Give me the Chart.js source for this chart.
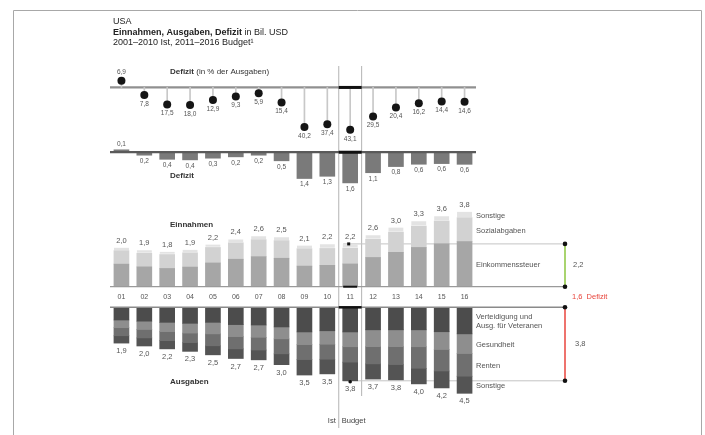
<!DOCTYPE html>
<html>
<head>
<meta charset="utf-8">
<style>
html,body{margin:0;padding:0;background:#fff;}
#wrap{position:relative;width:705px;height:435px;}
</style>
<script src="https://cdn.jsdelivr.net/npm/chart.js@4.4.1/dist/chart.umd.min.js"></script>
</head>
<body>
<div id="wrap"><canvas id="c" width="705" height="435"></canvas></div>
<script>
// ---------------- DATA ----------------
const years = ['01','02','03','04','05','06','07','08','09','10','11','12','13','14','15','16'];
// Defizit in % der Ausgaben (positive = Überschuss)
const deficitPct = [6.9,-7.8,-17.5,-18.0,-12.9,-9.3,-5.9,-15.4,-40.2,-37.4,-43.1,-29.5,-20.4,-16.2,-14.4,-14.6];
// Saldo in Bio. USD
const balance = [0.13,-0.16,-0.38,-0.41,-0.32,-0.248,-0.16,-0.46,-1.41,-1.29,-1.645,-1.10,-0.77,-0.645,-0.61,-0.649];
// Einnahmen
const revIncomeTax = [1.15,1.01,0.93,1.00,1.21,1.40,1.53,1.45,1.05,1.09,1.16,1.49,1.75,2.00,2.19,2.30];
const revSocial    = [0.69,0.70,0.71,0.73,0.79,0.84,0.87,0.90,0.89,0.86,0.81,0.93,1.03,1.09,1.16,1.22];
const revOther     = [0.15,0.15,0.14,0.15,0.15,0.17,0.17,0.17,0.16,0.21,0.21,0.20,0.23,0.24,0.24,0.30];
const revTotal     = [2.0,1.9,1.8,1.9,2.2,2.4,2.6,2.5,2.1,2.2,2.2,2.6,3.0,3.3,3.6,3.8];
// Ausgaben
const outDefense = [0.66,0.72,0.78,0.83,0.78,0.90,0.92,1.02,1.28,1.22,1.28,1.17,1.17,1.17,1.27,1.38];
const outHealth  = [0.40,0.43,0.48,0.51,0.60,0.62,0.64,0.62,0.66,0.70,0.77,0.87,0.87,0.88,0.92,1.02];
const outPension = [0.42,0.44,0.47,0.49,0.62,0.64,0.66,0.78,0.77,0.78,0.80,0.90,0.93,1.12,1.12,1.18];
const outOther   = [0.38,0.42,0.43,0.46,0.47,0.50,0.51,0.56,0.81,0.76,0.97,0.79,0.80,0.81,0.88,0.89];
const outTotal   = [1.9,2.0,2.2,2.3,2.5,2.7,2.7,3.0,3.5,3.5,3.8,3.7,3.8,4.0,4.2,4.5];
const revLegend = ['Einkommenssteuer','Sozialabgaben','Sonstige'];
const outLegend = [['Verteidigung und','Ausg. für Veteranen'],['Gesundheit'],['Renten'],['Sonstige']];
const budgetIndex = 10; // 2011

// ---------------- HELPERS ----------------
const H = 435;
function axis(zeroPx, pxPerUnit, stacked){
  return {type:'linear', display:false, stacked:stacked, min: -(H - zeroPx)/pxPerUnit, max: zeroPx/pxPerUnit};
}
const neg = a => a.map(v => -v);
const fmt = v => Math.abs(v).toFixed(1).replace('.', ',');
const FONT = '"Liberation Sans", Arial, sans-serif';

const deco = {
  id: 'deco',
  beforeDatasetsDraw(chart){
    const {ctx, chartArea:ca, scales} = chart;
    const x = scales.x, yP = scales.yPct, yR = scales.yRev, yO = scales.yOut;
    const bx = ca.right + 89;
    const xa = (x.getPixelForValue(9) + x.getPixelForValue(10))/2;
    const xb = (x.getPixelForValue(10) + x.getPixelForValue(11))/2;
    ctx.save();
    // frame
    ctx.strokeStyle = '#a8a8a8'; ctx.lineWidth = 1;
    ctx.beginPath(); ctx.moveTo(13.5, H); ctx.lineTo(13.5, 10.5); ctx.lineTo(701.5, 10.5); ctx.lineTo(701.5, H); ctx.stroke();
    // separators
    ctx.strokeStyle = '#a0a0a0'; ctx.lineWidth = 0.8;
    ctx.beginPath(); ctx.moveTo(xa, 66); ctx.lineTo(xa, 428); ctx.stroke();
    ctx.beginPath(); ctx.moveTo(xb, 66); ctx.lineTo(xb, 396); ctx.stroke();
    const line = (x1, x2, y, w, c) => { ctx.strokeStyle = c; ctx.lineWidth = w; ctx.beginPath(); ctx.moveTo(x1, y); ctx.lineTo(x2, y); ctx.stroke(); };
    line(ca.left, ca.right, yP.getPixelForValue(0), 2.2, '#909090');
    const xi = x.getPixelForValue(budgetIndex);
    const yRT = yR.getPixelForValue(revIncomeTax[budgetIndex] + revSocial[budgetIndex] + revOther[budgetIndex]);
    const yOB = yO.getPixelForValue(-(outDefense[budgetIndex] + outHealth[budgetIndex] + outPension[budgetIndex] + outOther[budgetIndex]));
    line(xi - 7, bx, yRT, 1, '#c4c4c4');
    line(xi - 7, bx, yOB, 1, '#c4c4c4');
    ctx.restore();
  },
  afterDatasetsDraw(chart){
    const {ctx, chartArea:ca, scales} = chart;
    const x = scales.x, yP = scales.yDot, yD = scales.yDef, yR = scales.yRev, yO = scales.yOut;
    const bx = ca.right + 89;
    const xa = (x.getPixelForValue(9) + x.getPixelForValue(10))/2;
    const xb = (x.getPixelForValue(10) + x.getPixelForValue(11))/2;
    const xi = x.getPixelForValue(budgetIndex);
    const yP0 = yP.getPixelForValue(0), yD0 = yD.getPixelForValue(0), yR0 = yR.getPixelForValue(0), yO0 = yO.getPixelForValue(0);
    ctx.save();
    const line = (x1, x2, y, w, c) => { ctx.strokeStyle = c; ctx.lineWidth = w; ctx.beginPath(); ctx.moveTo(x1, y); ctx.lineTo(x2, y); ctx.stroke(); };
    line(ca.left, ca.right, yD0, 2.2, '#5a5a5a');
    line(ca.left, bx, yR0, 1.2, '#9a9a9a');
    line(ca.left, bx, yO0, 1.5, '#8a8a8a');
    // budget year highlights
    line(xa, xb, yP0, 3, '#111');
    line(xa, xb, yD0, 3, '#111');
    line(xi - 7, xi + 7, yR0, 2, '#111');
    line(xa, xb, yO0, 2.5, '#111');
    const yRT = yR.getPixelForValue(revIncomeTax[budgetIndex] + revSocial[budgetIndex] + revOther[budgetIndex]);
    const yOB = yO.getPixelForValue(-(outDefense[budgetIndex] + outHealth[budgetIndex] + outPension[budgetIndex] + outOther[budgetIndex]));
    ctx.fillStyle = '#111';
    ctx.fillRect(xi - 3, yRT - 1.5, 3, 3);
    ctx.beginPath(); ctx.arc(xi, yOB + 1, 1.8, 0, Math.PI*2); ctx.fill();

    // value labels
    ctx.textBaseline = 'middle';
    ctx.fillStyle = '#555';
    ctx.textAlign = 'center';
    years.forEach((yr, i) => {
      const px = x.getPixelForValue(i);
      ctx.font = '6.5px ' + FONT;
      const dy = yP.getPixelForValue(deficitPct[i]);
      ctx.fillText(fmt(deficitPct[i]), px, deficitPct[i] >= 0 ? dy - 8.5 : dy + 9);
      const by = yD.getPixelForValue(balance[i]);
      ctx.fillText(fmt(balance[i]), px, balance[i] >= 0 ? by - 6 : by + 6);
      ctx.font = '7.5px ' + FONT;
      const rt = yR.getPixelForValue(revIncomeTax[i] + revSocial[i] + revOther[i]);
      ctx.fillText(fmt(revTotal[i]), px, rt - 7);
      const ob = yO.getPixelForValue(-(outDefense[i] + outHealth[i] + outPension[i] + outOther[i]));
      ctx.fillText(fmt(outTotal[i]), px, ob + 8);
      ctx.font = '7px ' + FONT;
      ctx.fillText(yr, px, (yR0 + yO0)/2);
    });

    // panel titles
    ctx.textAlign = 'left'; ctx.fillStyle = '#333';
    const rich = (parts, px, py, size) => {
      let cx = px;
      parts.forEach(([t, b]) => { ctx.font = (b ? 'bold ' : '') + size + 'px ' + FONT; ctx.fillText(t, cx, py); cx += ctx.measureText(t).width; });
    };
    rich([['Defizit', true], [' (in % der Ausgaben)', false]], 170, 72, 8);
    rich([['Defizit', true]], 170, 176, 8);
    rich([['Einnahmen', true]], 170, 225, 8);
    rich([['Ausgaben', true]], 170, 382, 8);

    // main title
    ctx.fillStyle = '#222';
    rich([['USA', false]], 113, 22, 9);
    rich([['Einnahmen, Ausgaben, Defizit', true], [' in Bil. USD', false]], 113, 33, 9);
    rich([['2001–2010 Ist, 2011–2016 Budget¹', false]], 113, 43, 9);

    // Ist / Budget
    ctx.font = '7.5px ' + FONT; ctx.fillStyle = '#444';
    ctx.textAlign = 'right'; ctx.fillText('Ist', xa - 3, 421);
    ctx.textAlign = 'left'; ctx.fillText('Budget', xa + 3, 421);

    // legends from last bar's segments
    const L = years.length - 1;
    const lx = ca.right;
    ctx.fillStyle = '#555'; ctx.font = '7.5px ' + FONT;
    const revSegs = [revIncomeTax, revSocial, revOther];
    let acc = 0;
    revSegs.forEach((arr, k) => {
      const y1 = yR.getPixelForValue(acc), y2 = yR.getPixelForValue(acc + arr[L]);
      acc += arr[L];
      ctx.fillText(revLegend[k], lx, (y1 + y2)/2 + 1);
    });
    const outSegs = [outDefense, outHealth, outPension, outOther];
    acc = 0;
    outSegs.forEach((arr, k) => {
      const y1 = yO.getPixelForValue(-acc), y2 = yO.getPixelForValue(-(acc + arr[L]));
      acc += arr[L];
      const lines = outLegend[k];
      const mid = (y1 + y2)/2 + 1;
      lines.forEach((t, j) => ctx.fillText(t, lx, mid + (j - (lines.length - 1)/2) * 9));
    });

    // brackets
    ctx.lineWidth = 1.5;
    ctx.strokeStyle = '#8cc63f';
    ctx.beginPath(); ctx.moveTo(bx, yRT); ctx.lineTo(bx, yR0); ctx.stroke();
    ctx.strokeStyle = '#e8453c';
    ctx.beginPath(); ctx.moveTo(bx, yO0); ctx.lineTo(bx, yOB); ctx.stroke();
    ctx.fillStyle = '#111';
    [yRT, yR0, yO0, yOB].forEach(yy => { ctx.beginPath(); ctx.arc(bx, yy, 2.3, 0, Math.PI*2); ctx.fill(); });
    ctx.fillStyle = '#555'; ctx.font = '7.5px ' + FONT; ctx.textAlign = 'left';
    ctx.fillText(fmt(revTotal[budgetIndex]), bx + 8, (yRT + yR0)/2);
    ctx.fillText(fmt(outTotal[budgetIndex]), bx + 10, (yO0 + yOB)/2);
    ctx.fillStyle = '#e8453c';
    ctx.fillText(fmt(balance[budgetIndex]) + '  Defizit', bx + 7, (yR0 + yO0)/2);
    ctx.restore();
  }
};

const barCommon = {type:'bar', grouped:false, stack:'s', barThickness:15, borderWidth:0};

new Chart(document.getElementById('c'), {
  type: 'bar',
  data: {
    labels: years,
    datasets: [
      {type:'line', data: deficitPct, yAxisID:'yDot', showLine:false, pointRadius:4, pointHoverRadius:4,
       pointBackgroundColor:'#151515', pointBorderWidth:0},
      {...barCommon, data: deficitPct, yAxisID:'yPct', barThickness:1, backgroundColor:'#c8c8c8'},
      {...barCommon, data: balance, yAxisID:'yDef', backgroundColor:'#7a7a7a'},
      {...barCommon, data: revIncomeTax, yAxisID:'yRev', backgroundColor:'#a6a6a6'},
      {...barCommon, data: revSocial, yAxisID:'yRev', backgroundColor:'#d2d2d2'},
      {...barCommon, data: revOther, yAxisID:'yRev', backgroundColor:'#e3e3e3',
       borderColor:'#ffffff', borderWidth:{top:0,left:0,right:0,bottom:1}, borderSkipped:false},
      {...barCommon, data: neg(outDefense), yAxisID:'yOut', backgroundColor:'#4c4c4c'},
      {...barCommon, data: neg(outHealth), yAxisID:'yOut', backgroundColor:'#8e8e8e'},
      {...barCommon, data: neg(outPension), yAxisID:'yOut', backgroundColor:'#6f6f6f'},
      {...barCommon, data: neg(outOther), yAxisID:'yOut', backgroundColor:'#545454'}
    ]
  },
  options: {
    responsive:false, animation:false, events:[],
    layout:{padding:{left:110, right:229, top:0, bottom:0}},
    plugins:{legend:{display:false}, tooltip:{enabled:false}, title:{display:false}},
    scales:{
      x:{type:'category', display:false, offset:true, grid:{display:false}},
      yDot: axis(85, 1, false),
      yPct: axis(85, 1, true),
      yDef: axis(151, 19, true),
      yRev: axis(288, 20, true),
      yOut: axis(309, 19.6, true)
    }
  },
  plugins:[deco]
});
</script>
</body>
</html>
